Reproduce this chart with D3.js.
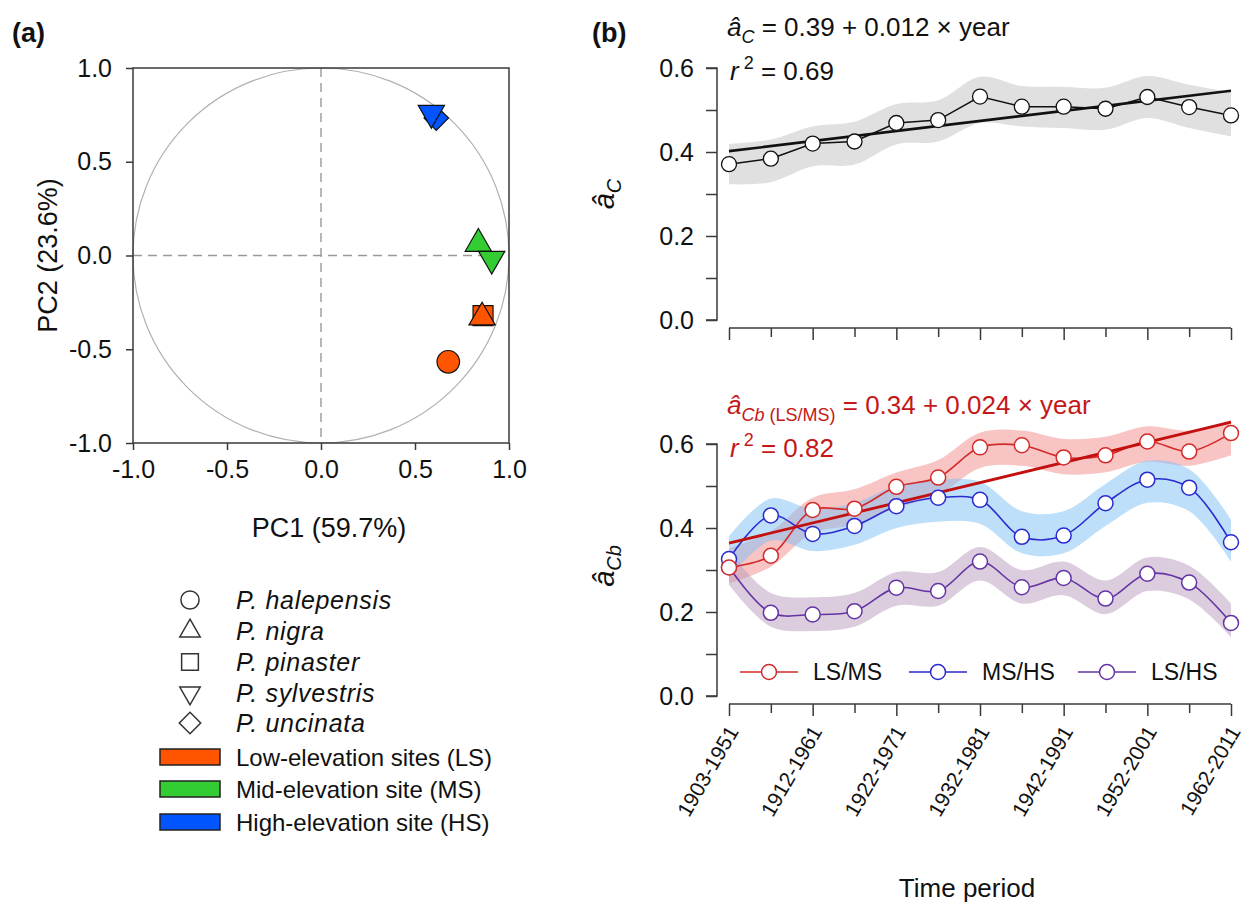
<!DOCTYPE html>
<html>
<head>
<meta charset="utf-8">
<script src="https://cdn.jsdelivr.net/npm/d3@7"></script>
<style>
  body { margin: 0; background: #fff; }
  text { font-family: "Liberation Sans", Arial, Helvetica, sans-serif; fill: #111; }
</style>
</head>
<body>
<svg id="fig" width="1245" height="906"></svg>
<script>
// ---------- Panel (a): PCA loadings ----------
const speciesNames = ["P. halepensis", "P. nigra", "P. pinaster", "P. sylvestris", "P. uncinata"];
const speciesShapes = ["circle", "triangleUp", "square", "triangleDown", "diamond"];
const siteNames = ["Low-elevation sites (LS)", "Mid-elevation site (MS)", "High-elevation site (HS)"];
const siteCodes = ["LS", "MS", "HS"];
const siteColors = ["#ff5500", "#33cc33", "#0055ff"];
const pcaTicks = [-1.0, -0.5, 0.0, 0.5, 1.0];

// one loading per species x site chronology
const loadSite = ["LS", "LS", "LS", "MS", "MS", "HS", "HS"];
const loadSpecies = ["P. halepensis", "P. pinaster", "P. nigra", "P. nigra", "P. sylvestris", "P. uncinata", "P. sylvestris"];
const loadPC1 = [0.677, 0.862, 0.857, 0.837, 0.908, 0.613, 0.587];
const loadPC2 = [-0.567, -0.321, -0.330, 0.063, -0.018, 0.733, 0.760];

// ---------- Panel (b): coupling through time ----------
const periods = ["1903-1951", "1908-1956", "1912-1961", "1917-1966", "1922-1971", "1927-1976",
                 "1932-1981", "1937-1986", "1942-1991", "1947-1996", "1952-2001", "1957-2006", "1962-2011"];
const periodLabelled = [true, false, true, false, true, false, true, false, true, false, true, false, true];
const yTicksB = [0.0, 0.1, 0.2, 0.3, 0.4, 0.5, 0.6];

const acValues = [0.371, 0.384, 0.420, 0.425, 0.469, 0.476, 0.532, 0.508, 0.508, 0.503, 0.531, 0.507, 0.487];
const acLower  = [0.323, 0.328, 0.366, 0.370, 0.418, 0.425, 0.469, 0.461, 0.457, 0.453, 0.481, 0.457, 0.437];
const acUpper  = [0.419, 0.430, 0.461, 0.472, 0.514, 0.523, 0.579, 0.557, 0.555, 0.553, 0.581, 0.560, 0.542];
const acFit = { intercept: 0.39, slope: 0.012 };

const lsmsValues = [0.306, 0.334, 0.443, 0.446, 0.498, 0.520, 0.592, 0.597, 0.568, 0.573, 0.606, 0.582, 0.626];
const lsmsLower  = [0.268, 0.308, 0.388, 0.408, 0.448, 0.478, 0.543, 0.548, 0.528, 0.533, 0.558, 0.548, 0.573];
const lsmsUpper  = [0.352, 0.392, 0.472, 0.492, 0.532, 0.562, 0.627, 0.632, 0.612, 0.617, 0.642, 0.632, 0.657];

const mshsValues = [0.326, 0.430, 0.386, 0.405, 0.452, 0.472, 0.467, 0.379, 0.382, 0.459, 0.515, 0.496, 0.366];
const mshsLower  = [0.280, 0.370, 0.345, 0.360, 0.400, 0.415, 0.410, 0.340, 0.340, 0.405, 0.460, 0.440, 0.320];
const mshsUpper  = [0.380, 0.470, 0.445, 0.460, 0.500, 0.515, 0.510, 0.440, 0.440, 0.505, 0.560, 0.540, 0.420];

const lshsValues = [0.307, 0.198, 0.194, 0.202, 0.258, 0.250, 0.320, 0.259, 0.281, 0.232, 0.291, 0.270, 0.174];
const lshsLower  = [0.265, 0.165, 0.155, 0.165, 0.215, 0.215, 0.275, 0.220, 0.240, 0.195, 0.250, 0.230, 0.140];
const lshsUpper  = [0.345, 0.245, 0.235, 0.245, 0.295, 0.295, 0.355, 0.300, 0.320, 0.275, 0.330, 0.310, 0.220];
const cbFit = { intercept: 0.34, slope: 0.024 };

const pairNames = ["LS/MS", "MS/HS", "LS/HS"];
const pairLine = ["#d42a2a", "#2a2ad0", "#6434a4"];
const pairBand = ["#f28a8a", "#7cc0f6", "#b79bbb"];

// ---------- drawing ----------
const svg = d3.select("#fig");
const axisCol = "#3a3a3a";
const FONT = "'Liberation Sans', Arial, Helvetica, sans-serif";
const RED = "#c41818";

function symbolPath(shape, size) {
  const map = {
    circle: [d3.symbolCircle, 0],
    triangleUp: [d3.symbolTriangle, 0],
    triangleDown: [d3.symbolTriangle, 180],
    square: [d3.symbolSquare, 0],
    diamond: [d3.symbolSquare, 45]
  };
  const [type, rot] = map[shape];
  return { d: d3.symbol().type(type).size(size)(), rot };
}

// ===== Panel (a) =====
const ax = d3.scaleLinear().domain([-1, 1]).range([133, 509]);
const ay = d3.scaleLinear().domain([-1, 1]).range([443, 68]);
const pa = svg.append("g");

pa.append("text").attr("x", 12).attr("y", 42).attr("font-size", 27).attr("font-weight", "bold").text("(a)");

// unit circle and reference lines
pa.append("ellipse")
  .attr("cx", ax(0)).attr("cy", ay(0))
  .attr("rx", ax(1) - ax(0)).attr("ry", ay(0) - ay(1))
  .attr("fill", "none").attr("stroke", "#b0b0b0").attr("stroke-width", 1.2);
pa.append("line").attr("x1", ax(-1)).attr("x2", ax(1)).attr("y1", ay(0)).attr("y2", ay(0))
  .attr("stroke", "#999").attr("stroke-width", 1.4).attr("stroke-dasharray", "9,6");
pa.append("line").attr("x1", ax(0)).attr("x2", ax(0)).attr("y1", ay(1)).attr("y2", ay(-1))
  .attr("stroke", "#999").attr("stroke-width", 1.4).attr("stroke-dasharray", "9,6");

// frame
pa.append("rect").attr("x", ax(-1)).attr("y", ay(1))
  .attr("width", ax(1) - ax(-1)).attr("height", ay(-1) - ay(1))
  .attr("fill", "none").attr("stroke", axisCol).attr("stroke-width", 1.5);

const axB = pa.append("g").attr("transform", `translate(0,${ay(-1)})`)
  .call(d3.axisBottom(ax).tickValues(pcaTicks).tickSize(7).tickPadding(10).tickFormat(d3.format(".1f")));
const ayL = pa.append("g").attr("transform", `translate(${ax(-1)},0)`)
  .call(d3.axisLeft(ay).tickValues(pcaTicks).tickSize(7).tickPadding(14).tickFormat(d3.format(".1f")));
[axB, ayL].forEach(g => {
  g.select(".domain").remove();
  g.selectAll("line").attr("stroke", axisCol).attr("stroke-width", 1.5);
  g.selectAll("text").attr("font-size", 25).attr("font-family", FONT).attr("fill", "#111");
});
axB.selectAll("text").text(d => d3.format(".1f")(d).replace("−", "-"));
ayL.selectAll("text").text(d => d3.format(".1f")(d).replace("−", "-"));

pa.append("text").attr("x", ax(0) + 8).attr("y", 537).attr("text-anchor", "middle")
  .attr("font-size", 27).text("PC1 (59.7%)");
pa.append("text").attr("transform", `translate(57,${ay(0)}) rotate(-90)`).attr("text-anchor", "middle")
  .attr("font-size", 27).text("PC2 (23.6%)");

// loadings
loadPC1.forEach((v, i) => {
  const sp = speciesShapes[speciesNames.indexOf(loadSpecies[i])];
  const col = siteColors[siteCodes.indexOf(loadSite[i])];
  const sizes = { circle: 400, triangleUp: 300, triangleDown: 300, square: 400, diamond: 300 };
  const s = symbolPath(sp, sizes[sp]);
  pa.append("path").attr("d", s.d)
    .attr("transform", `translate(${ax(v)},${ay(loadPC2[i])}) rotate(${s.rot})`)
    .attr("fill", col).attr("stroke", "#111").attr("stroke-width", 1.2);
});

// legend: species shapes
const legY = [600, 631, 662, 693, 723];
speciesNames.forEach((name, i) => {
  const sp = speciesShapes[i];
  const sizes = { circle: 260, triangleUp: 180, triangleDown: 180, square: 280, diamond: 230 };
  const s = symbolPath(sp, sizes[sp]);
  pa.append("path").attr("d", s.d)
    .attr("transform", `translate(190,${legY[i]}) rotate(${s.rot})`)
    .attr("fill", "#fff").attr("stroke", "#333").attr("stroke-width", 1.5);
  pa.append("text").attr("x", 236).attr("y", legY[i] + 9).attr("font-size", 25)
    .attr("letter-spacing", 0.7).attr("font-style", "italic").text(name);
});
// legend: site colours
const siteY = [757, 789, 822];
siteNames.forEach((name, i) => {
  pa.append("rect").attr("x", 160).attr("y", siteY[i] - 8).attr("width", 60).attr("height", 16)
    .attr("fill", siteColors[i]).attr("stroke", "#222").attr("stroke-width", 1.5);
  pa.append("text").attr("x", 236).attr("y", siteY[i] + 9).attr("font-size", 24).text(name);
});

// ===== Panel (b) =====
const bx = d3.scalePoint().domain(periods).range([729, 1231]);
const byTop = d3.scaleLinear().domain([0, 0.6]).range([320, 68]);
const byBot = d3.scaleLinear().domain([0, 0.6]).range([696, 444]);
const pb = svg.append("g");

pb.append("text").attr("x", 592).attr("y", 42).attr("font-size", 27).attr("font-weight", "bold").text("(b)");

function yAxis(scale) {
  const g = pb.append("g").attr("transform", "translate(717,0)")
    .call(d3.axisLeft(scale).tickValues(yTicksB).tickSize(11).tickPadding(12)
      .tickFormat(d => (Math.round(d * 10) % 2 === 0) ? d3.format(".1f")(d) : ""));
  g.select(".domain").attr("d", `M-11,${scale(0.6)}H0V${scale(0)}H-11`)
    .attr("stroke", axisCol).attr("stroke-width", 1.5).attr("fill", "none");
  g.selectAll("line").attr("stroke", axisCol).attr("stroke-width", 1.5);
  g.selectAll("text").attr("font-size", 25).attr("font-family", FONT).attr("fill", "#111");
  return g;
}
function xAxis(y, labelled) {
  const g = pb.append("g").attr("transform", `translate(0,${y})`)
    .call(d3.axisBottom(bx).tickSize(12).tickFormat(""));
  g.select(".domain").attr("d", `M${bx(periods[0])},0H${bx(periods[periods.length - 1])}`)
    .attr("stroke", axisCol).attr("stroke-width", 1.5);
  g.selectAll(".tick line").attr("stroke", axisCol).attr("stroke-width", 1.5)
    .attr("y2", (d, i) => periodLabelled[i] ? 12 : 9);
  if (labelled) {
    g.selectAll(".tick").filter((d, i) => periodLabelled[i])
      .append("text")
      .attr("transform", "translate(-3,20) rotate(-60)")
      .attr("text-anchor", "end").attr("dy", "0.7em")
      .attr("font-size", 21).attr("font-family", FONT).attr("fill", "#111")
      .text(d => d);
  }
  return g;
}

// --- top plot: a_C ---
yAxis(byTop);
xAxis(328, false);

pb.append("path")
  .datum(periods.map((p, i) => i))
  .attr("d", d3.area().x(i => bx(periods[i])).y0(i => byTop(acLower[i])).y1(i => byTop(acUpper[i]))
    .curve(d3.curveCatmullRom.alpha(0.5)))
  .attr("fill", "#e0e0e0");
pb.append("path")
  .datum(periods.map((p, i) => i))
  .attr("d", d3.line().x(i => bx(periods[i])).y(i => byTop(acValues[i])))
  .attr("fill", "none").attr("stroke", "#111").attr("stroke-width", 1.5);
pb.append("line")
  .attr("x1", bx(periods[0])).attr("y1", byTop(acFit.intercept + acFit.slope * 1))
  .attr("x2", bx(periods[12])).attr("y2", byTop(acFit.intercept + acFit.slope * 13))
  .attr("stroke", "#111").attr("stroke-width", 2.6);
pb.selectAll(".acpt").data(acValues).enter().append("circle")
  .attr("cx", (d, i) => bx(periods[i])).attr("cy", d => byTop(d)).attr("r", 7.5)
  .attr("fill", "#fff").attr("stroke", "#111").attr("stroke-width", 1.3);

const eq1 = pb.append("text").attr("x", 727).attr("y", 36).attr("font-size", 26);
eq1.append("tspan").attr("font-style", "italic").text("â");
eq1.append("tspan").attr("font-style", "italic").attr("font-size", 18).attr("dy", 7).text("C");
eq1.append("tspan").attr("dy", -7).text(" = 0.39 + 0.012 × year");
const r1 = pb.append("text").attr("x", 730).attr("y", 80).attr("font-size", 26);
r1.append("tspan").attr("font-style", "italic").text("r");
r1.append("tspan").attr("font-size", 18).attr("dy", -11).text(" 2");
r1.append("tspan").attr("dy", 11).text(" = 0.69");

const yl1 = pb.append("text").attr("transform", "translate(614,194) rotate(-90)")
  .attr("text-anchor", "middle").attr("font-size", 29);
yl1.append("tspan").attr("font-style", "italic").text("â");
yl1.append("tspan").attr("font-style", "italic").attr("font-size", 20).attr("dy", 7).text("C");

// --- bottom plot: a_Cb ---
yAxis(byBot);
xAxis(704, true);

const series = [
  { vals: lsmsValues, lo: lsmsLower, hi: lsmsUpper },
  { vals: mshsValues, lo: mshsLower, hi: mshsUpper },
  { vals: lshsValues, lo: lshsLower, hi: lshsUpper }
];
const idx = periods.map((p, i) => i);
const smooth = d3.curveCatmullRom.alpha(0.5);

series.forEach((s, k) => {
  pb.append("path").datum(idx)
    .attr("d", d3.area().x(i => bx(periods[i])).y0(i => byBot(s.lo[i])).y1(i => byBot(s.hi[i])).curve(smooth))
    .attr("fill", pairBand[k]).attr("fill-opacity", 0.5);
});
series.forEach((s, k) => {
  pb.append("path").datum(idx)
    .attr("d", d3.line().x(i => bx(periods[i])).y(i => byBot(s.vals[i])).curve(smooth))
    .attr("fill", "none").attr("stroke", pairLine[k]).attr("stroke-width", 1.6);
});
pb.append("line")
  .attr("x1", bx(periods[0])).attr("y1", byBot(cbFit.intercept + cbFit.slope * 1))
  .attr("x2", bx(periods[12])).attr("y2", byBot(cbFit.intercept + cbFit.slope * 13))
  .attr("stroke", "#c40f0f").attr("stroke-width", 2.8);
[2, 1, 0].forEach(k => {
  const s = series[k];
  pb.selectAll(".pt" + k).data(s.vals).enter().append("circle")
    .attr("cx", (d, i) => bx(periods[i])).attr("cy", d => byBot(d)).attr("r", 7.5)
    .attr("fill", "#fff").attr("stroke", pairLine[k]).attr("stroke-width", 1.5);
});

const eq2 = pb.append("text").attr("x", 727).attr("y", 414).attr("font-size", 26).style("fill", RED);
eq2.append("tspan").attr("font-style", "italic").style("fill", RED).text("â");
eq2.append("tspan").attr("font-style", "italic").attr("font-size", 18).attr("dy", 7).style("fill", RED).text("Cb");
eq2.append("tspan").attr("font-size", 18).style("fill", RED).text(" (LS/MS)");
eq2.append("tspan").attr("dy", -7).style("fill", RED).text(" = 0.34 + 0.024 × year");
const r2 = pb.append("text").attr("x", 730).attr("y", 457).attr("font-size", 26).style("fill", RED);
r2.append("tspan").attr("font-style", "italic").style("fill", RED).text("r");
r2.append("tspan").attr("font-size", 18).attr("dy", -11).style("fill", RED).text(" 2");
r2.append("tspan").attr("dy", 11).style("fill", RED).text(" = 0.82");

const yl2 = pb.append("text").attr("transform", "translate(614,566) rotate(-90)")
  .attr("text-anchor", "middle").attr("font-size", 29);
yl2.append("tspan").attr("font-style", "italic").text("â");
yl2.append("tspan").attr("font-style", "italic").attr("font-size", 20).attr("dy", 7).text("Cb");

// legend of coupled pairs
const legX = [740, 909, 1078];
pairNames.forEach((name, k) => {
  const g = pb.append("g").attr("transform", `translate(${legX[k]},672)`);
  g.append("line").attr("x1", 0).attr("x2", 58).attr("y1", 0).attr("y2", 0)
    .attr("stroke", pairLine[k]).attr("stroke-width", 1.6);
  g.append("circle").attr("cx", 29).attr("cy", 0).attr("r", 7.5)
    .attr("fill", "#fff").attr("stroke", pairLine[k]).attr("stroke-width", 1.5);
  g.append("text").attr("x", 73).attr("y", 8).attr("font-size", 23).text(name);
});

pb.append("text").attr("x", 967).attr("y", 897).attr("text-anchor", "middle")
  .attr("font-size", 26).text("Time period");
</script>
</body>
</html>
